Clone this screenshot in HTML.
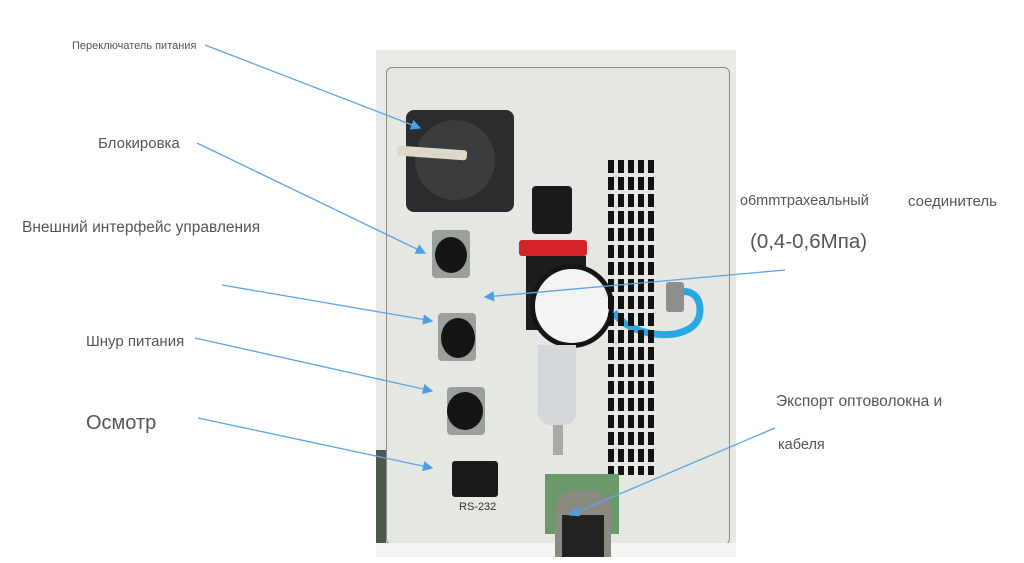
<!DOCTYPE html>
<html><head><meta charset="utf-8"><style>
body{margin:0;width:1024px;height:563px;background:#fff;position:relative;overflow:hidden;font-family:"Liberation Sans",sans-serif;color:#444}
.a{position:absolute}
.t{position:absolute;white-space:nowrap;color:#555}
</style></head><body>
<div class="a" style="left:376px;top:50px;width:360px;height:507px;background:#e7eae5"></div>
<div class="a" style="left:376px;top:450px;width:10px;height:107px;background:#4b5a4a"></div>
<div class="a" style="left:386px;top:67px;width:342px;height:476px;border:1px solid #8a8e88;border-radius:6px;background:#e4e7e2"></div>
<div class="a" style="left:376px;top:543px;width:360px;height:14px;background:#f3f5f3"></div>
<div class="a" style="left:406px;top:110px;width:108px;height:102px;background:#2a2c2e;border-radius:8px"></div>
<div class="a" style="left:415px;top:120px;width:80px;height:80px;background:#3a3c3e;border-radius:50%"></div>
<div class="a" style="left:397px;top:148px;width:70px;height:10px;background:#ddd8c8;border-radius:3px;transform:rotate(4deg)"></div>
<div class="a" style="left:432px;top:230px;width:38px;height:48px;background:#9aa09a;border-radius:4px"></div>
<div class="a" style="left:435px;top:237px;width:32px;height:36px;background:#151515;border-radius:50%"></div>
<div class="a" style="left:438px;top:313px;width:38px;height:48px;background:#9aa09a;border-radius:4px"></div>
<div class="a" style="left:441px;top:318px;width:34px;height:40px;background:#151515;border-radius:50%"></div>
<div class="a" style="left:447px;top:387px;width:38px;height:48px;background:#9aa09a;border-radius:4px"></div>
<div class="a" style="left:447px;top:392px;width:36px;height:38px;background:#151515;border-radius:50%"></div>
<div class="a" style="left:452px;top:461px;width:46px;height:36px;background:#1a1a1a;border-radius:3px"></div>
<div class="t" style="left:459px;top:501px;font-size:11px;color:#333">RS-232</div>
<div class="a" style="left:532px;top:186px;width:40px;height:48px;background:#1a1a1a;border-radius:4px"></div>
<div class="a" style="left:519px;top:240px;width:68px;height:16px;background:#d8222a;border-radius:3px"></div>
<div class="a" style="left:526px;top:256px;width:60px;height:74px;background:#1e1e1e"></div>
<div class="a" style="left:530px;top:264px;width:84px;height:84px;background:#f4f4f2;border:5px solid #151515;border-radius:50%;box-sizing:border-box"></div>
<div class="a" style="left:538px;top:345px;width:38px;height:80px;background:#d4d8da;border-radius:0 0 12px 12px"></div>
<div class="a" style="left:553px;top:425px;width:10px;height:30px;background:#aaa"></div>
<svg class="a" style="left:0;top:0" width="1024" height="563"><path d="M614 312 C630 340 700 345 700 310 C700 295 690 290 680 292" stroke="#2aa6e0" stroke-width="7" fill="none"/></svg>
<div class="a" style="left:666px;top:282px;width:18px;height:30px;background:#8c8f8e;border-radius:3px"></div>
<div class="a" style="left:608px;top:160px;width:46px;height:315px;background:repeating-linear-gradient(90deg,#111 0 6px,transparent 6px 10px);-webkit-mask:repeating-linear-gradient(180deg,#000 0 13px,transparent 13px 17px);mask:repeating-linear-gradient(180deg,#000 0 13px,transparent 13px 17px)"></div>
<div class="a" style="left:545px;top:474px;width:74px;height:60px;background:#6a9a6a"></div>
<div class="a" style="left:555px;top:490px;width:56px;height:67px;background:#8b8a80;border-radius:20px 20px 0 0"></div>
<div class="a" style="left:562px;top:515px;width:42px;height:42px;background:#222"></div>
<svg class="a" style="left:0;top:0" width="1024" height="563">
<defs><marker id="m" markerWidth="8" markerHeight="8" refX="7" refY="4" orient="auto"><path d="M0 0L8 4L0 8z" fill="#4d9ee8"/></marker></defs>
<g stroke="#5ea4e6" stroke-width="1.3" marker-end="url(#m)">
<line x1="205" y1="45" x2="420" y2="128"/>
<line x1="197" y1="143" x2="425" y2="253"/>
<line x1="222" y1="285" x2="432" y2="321"/>
<line x1="195" y1="338" x2="432" y2="391"/>
<line x1="198" y1="418" x2="432" y2="468"/>
<line x1="785" y1="270" x2="485" y2="297"/>
<line x1="775" y1="428" x2="570" y2="515"/>
</g></svg>
<div class="t" style="left:72px;top:40px;font-size:11px">Переключатель питания</div>
<div class="t" style="left:98px;top:135px;font-size:15px">Блокировка</div>
<div class="t" style="left:22px;top:219px;font-size:15.5px">Внешний интерфейс управления</div>
<div class="t" style="left:86px;top:333px;font-size:15px">Шнур питания</div>
<div class="t" style="left:86px;top:412px;font-size:20px">Осмотр</div>
<div class="t" style="left:740px;top:193px;font-size:14.5px">o6mmтрахеальный</div>
<div class="t" style="left:908px;top:193px;font-size:15px">соединитель</div>
<div class="t" style="left:750px;top:230px;font-size:20.5px">(0,4-0,6Мпа)</div>
<div class="t" style="left:776px;top:393px;font-size:15.5px">Экспорт оптоволокна и</div>
<div class="t" style="left:778px;top:437px;font-size:14.5px">кабеля</div>
</body></html>
